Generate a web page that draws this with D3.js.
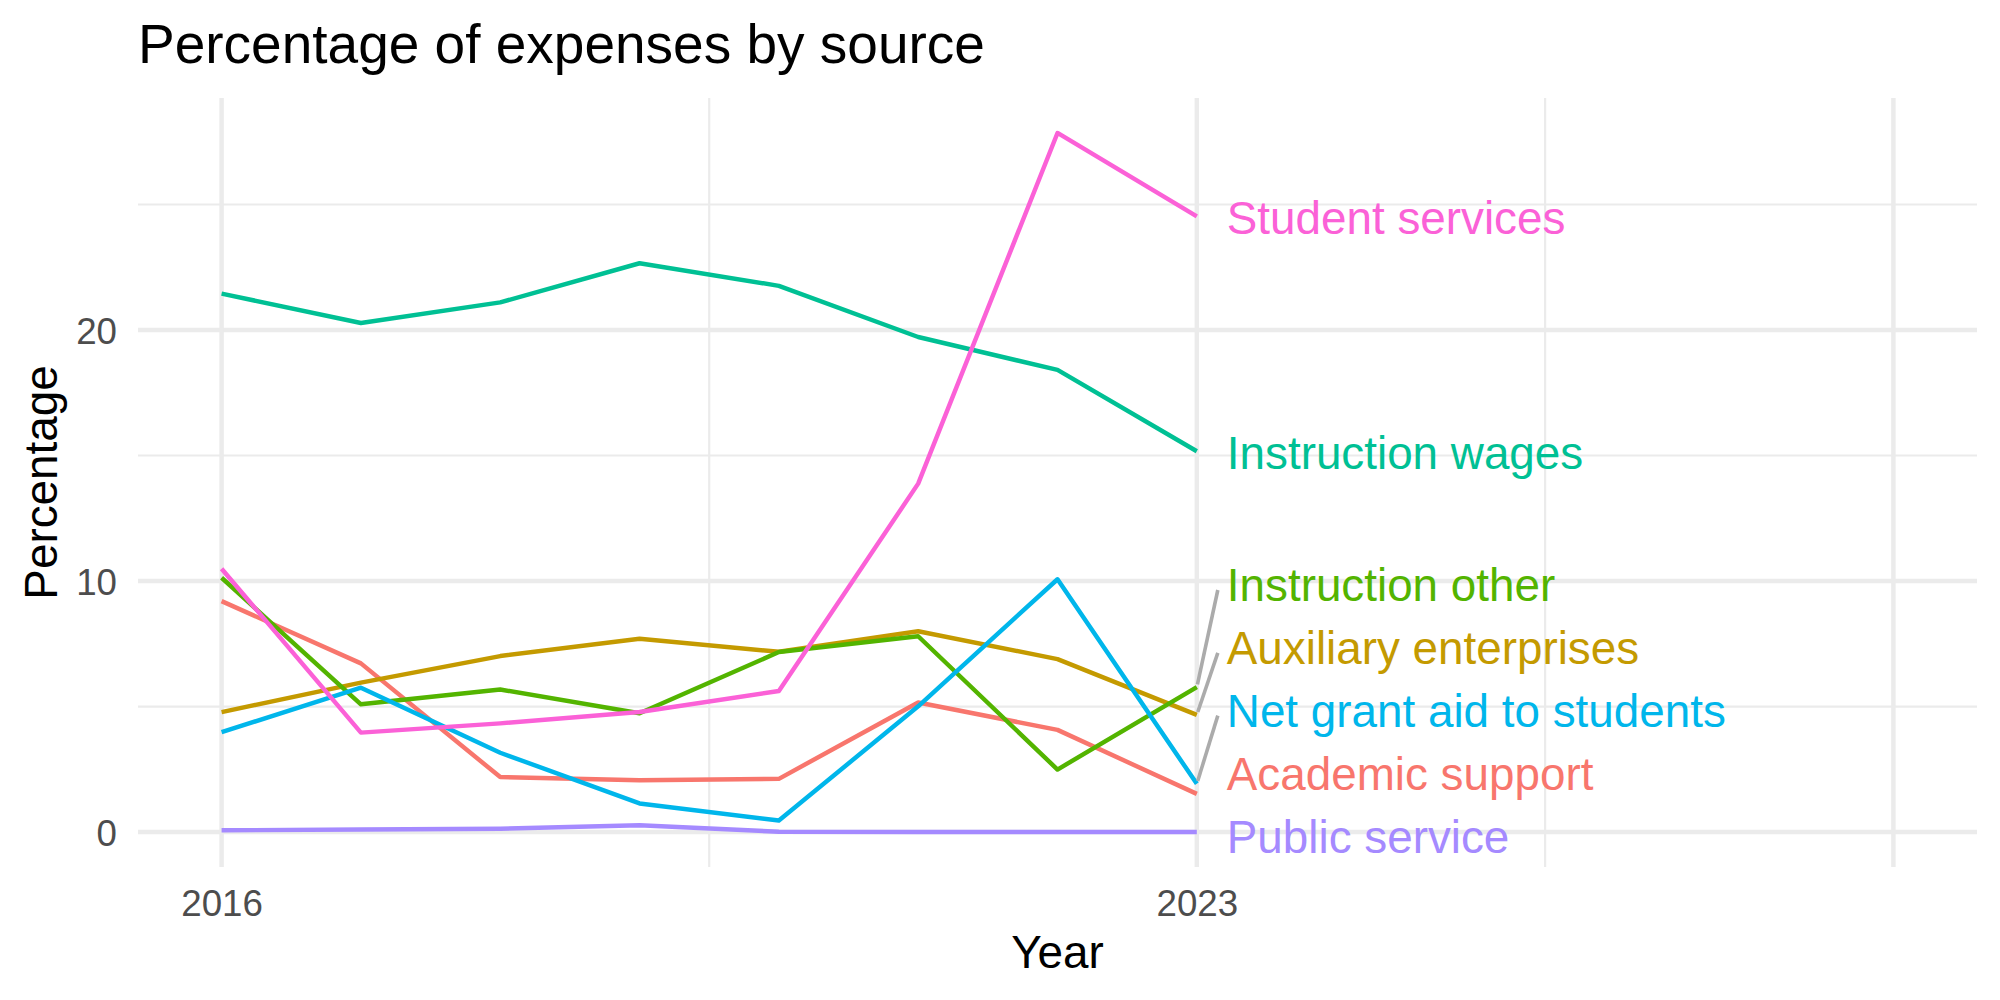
<!DOCTYPE html>
<html>
<head>
<meta charset="utf-8">
<script src="https://cdn.jsdelivr.net/npm/d3@7"></script>
<style>
  body { margin: 0; background: #fff; }
  text { font-family: "Liberation Sans", Arial, Helvetica, sans-serif; }
</style>
</head>
<body>
<div id="chart"></div>
<script>
// data
const years = [2016, 2017, 2018, 2019, 2020, 2021, 2022, 2023];
const categories = ["Academic support", "Auxiliary enterprises", "Instruction other",
  "Instruction wages", "Net grant aid to students", "Public service", "Student services"];
const academicSupport = [9.20, 6.72, 2.19, 2.06, 2.12, 5.16, 4.07, 1.52];
const auxiliaryEnterprises = [4.78, 5.95, 7.01, 7.70, 7.18, 8.00, 6.89, 4.67];
const instructionOther = [10.13, 5.09, 5.68, 4.73, 7.17, 7.80, 2.49, 5.77];
const instructionWages = [21.45, 20.28, 21.10, 22.66, 21.76, 19.72, 18.41, 15.17];
const netGrantAid = [3.98, 5.75, 3.16, 1.14, 0.46, 5.01, 10.07, 1.92];
const publicService = [0.07, 0.10, 0.13, 0.27, 0.01, 0.0, 0.0, 0.0];
const studentServices = [10.49, 3.96, 4.33, 4.78, 5.62, 13.88, 27.85, 24.53];
const colors = ["#F8766D", "#C49A00", "#53B400", "#00C094", "#00B6EB", "#A58AFF", "#FB61D7"];

const xBreaks = [2016, 2023, 2028];
const xLabels = ["2016", "2023", ""];
const xMinor = [2019.5, 2025.5];
const yBreaks = [0, 10, 20];
const yMinor = [5, 15, 25];

const seriesValues = [academicSupport, auxiliaryEnterprises, instructionOther,
  instructionWages, netGrantAid, publicService, studentServices];
const series = categories.map((c, i) => ({
  name: c, color: colors[i],
  values: years.map((y, j) => ({ year: y, value: seriesValues[i][j] }))
}));

const W = 2000, H = 1000;
const margin = {top: 98, right: 23, bottom: 133, left: 138};
const width = W - margin.left - margin.right,
      height = H - margin.top - margin.bottom;

const svg = d3.select("#chart")
  .append("svg")
    .attr("width", W)
    .attr("height", H)
    .style("background", "#fff");

const g = svg.append("g")
    .attr("transform", `translate(${margin.left},${margin.top})`);

// scales, ggplot style 5% expansion
const xLim = [2016, 2028];
const xPad = (xLim[1] - xLim[0]) * 0.05;
const x = d3.scaleLinear()
  .domain([xLim[0] - xPad, xLim[1] + xPad])
  .range([0, width]);

const allVals = seriesValues.flat();
const yExt = d3.extent(allVals);
const yPad = (yExt[1] - yExt[0]) * 0.05;
const y = d3.scaleLinear()
  .domain([yExt[0] - yPad, yExt[1] + yPad])
  .range([height, 0]);

// grid
const gridCol = "#EBEBEB";
g.selectAll(".yminor").data(yMinor).enter().append("line")
  .attr("x1", 0).attr("x2", width)
  .attr("y1", d => y(d)).attr("y2", d => y(d))
  .attr("stroke", gridCol).attr("stroke-width", 2.2);
g.selectAll(".xminor").data(xMinor).enter().append("line")
  .attr("y1", 0).attr("y2", height)
  .attr("x1", d => x(d)).attr("x2", d => x(d))
  .attr("stroke", gridCol).attr("stroke-width", 2.2);
g.selectAll(".ymajor").data(yBreaks).enter().append("line")
  .attr("x1", 0).attr("x2", width)
  .attr("y1", d => y(d)).attr("y2", d => y(d))
  .attr("stroke", gridCol).attr("stroke-width", 4.45);
g.selectAll(".xmajor").data(xBreaks).enter().append("line")
  .attr("y1", 0).attr("y2", height)
  .attr("x1", d => x(d)).attr("x2", d => x(d))
  .attr("stroke", gridCol).attr("stroke-width", 4.45);

// axes (labels only)
const yAxis = g.append("g")
  .call(d3.axisLeft(y).tickValues(yBreaks).tickSize(0).tickPadding(21));
yAxis.select(".domain").remove();
yAxis.selectAll("text")
  .attr("dy", "0.36em")
  .style("font-size", "36.7px")
  .style("font-family", "'Liberation Sans', Arial, sans-serif")
  .attr("fill", "#4D4D4D");

const xAxis = g.append("g")
  .attr("transform", `translate(0,${height})`)
  .call(d3.axisBottom(x).tickValues(xBreaks).tickFormat((d, i) => xLabels[i]).tickSize(0));
xAxis.select(".domain").remove();
xAxis.selectAll("text")
  .attr("y", 49)
  .attr("dy", null)
  .style("font-size", "36.7px")
  .style("font-family", "'Liberation Sans', Arial, sans-serif")
  .attr("fill", "#4D4D4D");

// lines
const line = d3.line()
  .x(d => x(d.year))
  .y(d => y(d.value));

g.selectAll(".series").data(series).enter().append("path")
  .attr("fill", "none")
  .attr("stroke", d => d.color)
  .attr("stroke-width", 4.45)
  .attr("stroke-linejoin", "round")
  .attr("d", d => line(d.values));

// end labels with a small 1D repel
const lastYear = years[years.length - 1];
const labels = series.map(s => {
  const v = s.values[s.values.length - 1].value;
  return { name: s.name, color: s.color, py: y(v), ly: y(v) + 1.5 };
}).sort((a, b) => a.ly - b.ly);

const spacing = 62.8, lo = 30, hi = height - 30.8;
for (let k = 0; k < 600; k++) {
  for (let i = 1; i < labels.length; i++) {
    const d = spacing - (labels[i].ly - labels[i - 1].ly);
    if (d > 0) { labels[i - 1].ly -= d / 2; labels[i].ly += d / 2; }
  }
  labels.forEach(l => { l.ly = Math.max(lo, Math.min(hi, l.ly)); });
}

const lx = x(lastYear) + 30;
labels.forEach(l => {
  if (Math.abs(l.ly - l.py) > 30) {
    const x0 = x(lastYear), x1 = lx - 9, y1 = l.ly + 5;
    const len = Math.hypot(x1 - x0, y1 - l.py);
    g.append("line")
      .attr("x1", x0 + (x1 - x0) / len * 3)
      .attr("y1", l.py + (y1 - l.py) / len * 3)
      .attr("x2", x1).attr("y2", y1)
      .attr("stroke", "#ABABAB")
      .attr("stroke-width", 3.6);
  }
});

g.selectAll(".lab").data(labels).enter().append("text")
  .attr("x", lx)
  .attr("y", d => d.ly)
  .attr("dy", "0.36em")
  .attr("fill", d => d.color)
  .style("font-size", "45.8px")
  .text(d => d.name);

// titles
svg.append("text")
  .attr("x", margin.left)
  .attr("y", 63)
  .style("font-size", "55px")
  .attr("fill", "#000")
  .text("Percentage of expenses by source");

svg.append("text")
  .attr("x", margin.left + width / 2)
  .attr("y", 968)
  .attr("text-anchor", "middle")
  .style("font-size", "45.8px")
  .attr("fill", "#000")
  .text("Year");

svg.append("text")
  .attr("transform", `translate(57,${margin.top + height / 2}) rotate(-90)`)
  .attr("text-anchor", "middle")
  .style("font-size", "45.8px")
  .attr("fill", "#000")
  .text("Percentage");
</script>
</body>
</html>
